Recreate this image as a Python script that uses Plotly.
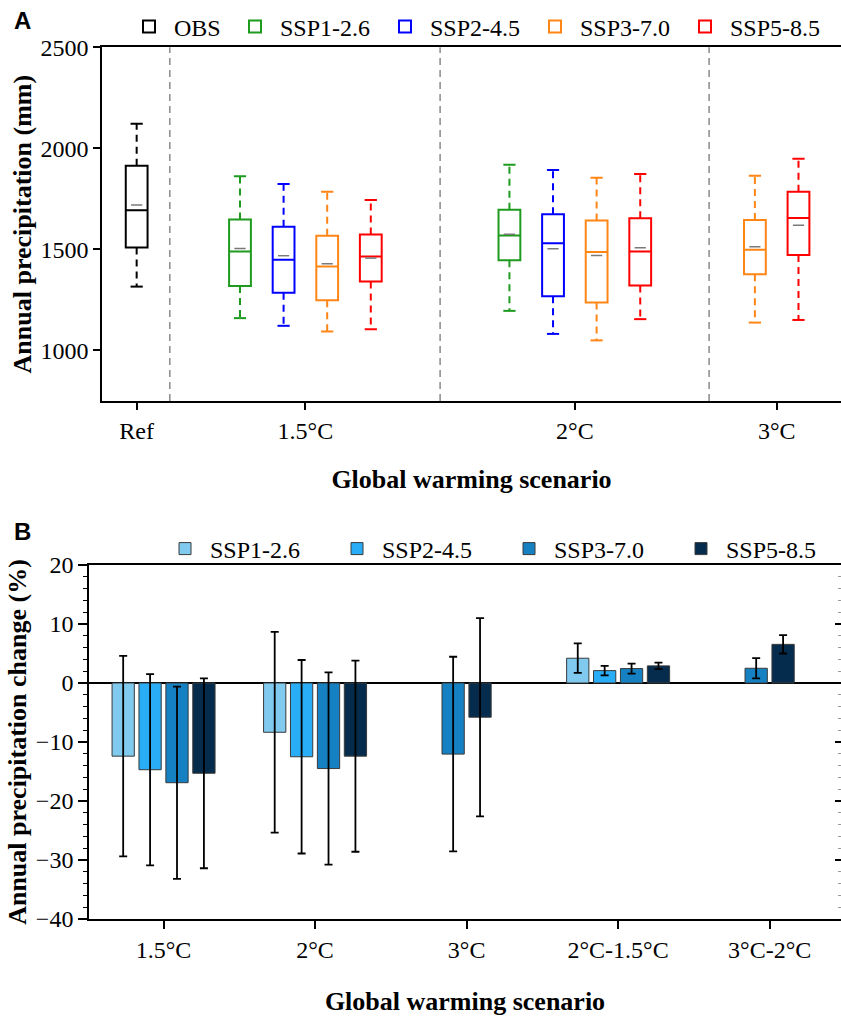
import plotly.graph_objects as go

W, H = 841, 1023
SERIF = "Liberation Serif"

# ---------------- Panel A data ----------------
groups_a = ["Ref", "1.5°C", "2°C", "3°C"]
series_a = ["OBS", "SSP1-2.6", "SSP2-4.5", "SSP3-7.0", "SSP5-8.5"]
colors_a = ["#000000", "#1E9A1E", "#0000FF", "#FF8515", "#FF0000"]

# rows follow series_a, columns follow groups_a (None = no box)
whisker_low = [
    [1316, None, None, None],
    [None, 1160, 1196, None],
    [None, 1122, 1082, None],
    [None, 1094, 1050, 1138],
    [None, 1105, 1155, 1151],
]
q1 = [
    [1510, None, None, None],
    [None, 1319, 1446, None],
    [None, 1286, 1268, None],
    [None, 1248, 1237, 1377],
    [None, 1341, 1321, 1472],
]
median = [
    [1694, None, None, None],
    [None, 1490, 1569, None],
    [None, 1449, 1530, None],
    [None, 1415, 1487, 1498],
    [None, 1465, 1490, 1656],
]
mean = [
    [1720, None, None, None],
    [None, 1505, 1575, None],
    [None, 1469, 1503, None],
    [None, 1429, 1470, 1513],
    [None, 1457, 1508, 1620],
]
q3 = [
    [1914, None, None, None],
    [None, 1648, 1696, None],
    [None, 1612, 1674, None],
    [None, 1568, 1643, 1646],
    [None, 1574, 1654, 1785],
]
whisker_high = [
    [2122, None, None, None],
    [None, 1862, 1919, None],
    [None, 1824, 1893, None],
    [None, 1785, 1854, 1865],
    [None, 1745, 1873, 1949],
]

# ---------------- Panel B data ----------------
cats_b = ["1.5°C", "2°C", "3°C", "2°C-1.5°C", "3°C-2°C"]
series_b = ["SSP1-2.6", "SSP2-4.5", "SSP3-7.0", "SSP5-8.5"]
colors_b = ["#80CAEF", "#29ADF6", "#1681C2", "#052C4D"]
change_b = [
    [-12.4, -8.35, None, 4.2, None],
    [-14.7, -12.5, None, 2.1, None],
    [-16.9, -14.5, -12.05, 2.45, 2.5],
    [-15.3, -12.4, -5.8, 2.9, 6.55],
]
err_b = [
    [17.0, 17.0, None, 2.5, None],
    [16.2, 16.4, None, 0.8, None],
    [16.3, 16.3, 16.5, 0.85, 1.7],
    [16.1, 16.2, 16.8, 0.55, 1.55],
]

# ---------------- layout constants ----------------
centers_a = [0.0, 3.87, 10.05, 14.68]     # category positions on panel A axis
separators_a = [0.76, 6.96, 13.13]
slot_a = 1.0
cap_half = 0.14
slot_b = 0.1776
barw_b = 0.147
legend_x_a = [124, 230, 380, 530, 680]    # px, one legend per series
legend_x_b = [160, 332, 504, 676]

fig = go.Figure()


def legend_name(i):
    return "legend" if i == 0 else f"legend{i + 1}"


# ---- Panel A: boxes ----
for s, name in enumerate(series_a):
    xs, lo, a1, md, mn, a3, hi = [], [], [], [], [], [], []
    for g in range(len(groups_a)):
        if median[s][g] is None:
            continue
        present = [k for k in range(len(series_a)) if median[k][g] is not None]
        n = len(present)
        idx = present.index(s)
        xs.append(centers_a[g] + (idx - (n - 1) / 2) * slot_a)
        lo.append(whisker_low[s][g]); a1.append(q1[s][g]); md.append(median[s][g])
        mn.append(mean[s][g]); a3.append(q3[s][g]); hi.append(whisker_high[s][g])
    col = colors_a[s]
    wx, wy = [], []
    for x, l, b, t, h in zip(xs, lo, a1, a3, hi):
        wx += [x, x, None, x, x, None]
        wy += [t, h, None, b, l, None]
    fig.add_trace(go.Scatter(x=wx, y=wy, mode="lines", showlegend=False, hoverinfo="skip",
                             line=dict(color=col, width=2, dash="7px,5px"), xaxis="x", yaxis="y"))
    cx, cy = [], []
    for x, l, h in zip(xs, lo, hi):
        cx += [x - cap_half, x + cap_half, None, x - cap_half, x + cap_half, None]
        cy += [h, h, None, l, l, None]
    fig.add_trace(go.Scatter(x=cx, y=cy, mode="lines", showlegend=False, hoverinfo="skip",
                             line=dict(color=col, width=2), xaxis="x", yaxis="y"))
    fig.add_trace(go.Box(x=xs, q1=a1, median=md, q3=a3, lowerfence=a1, upperfence=a3,
                         name=name, width=0.5, whiskerwidth=0, boxpoints=False,
                         line=dict(color=col, width=2), fillcolor="white",
                         legend=legend_name(s), xaxis="x", yaxis="y"))
    fig.add_trace(go.Scatter(x=xs, y=mn, mode="markers", showlegend=False, hoverinfo="skip",
                             marker=dict(symbol="line-ew", size=8, color="#7a7a7a",
                                         line=dict(color="#7a7a7a", width=1.5)),
                             xaxis="x", yaxis="y"))

# ---- Panel B: bars ----
nA = len(series_a)
for s, name in enumerate(series_b):
    xs, ys, es = [], [], []
    for c in range(len(cats_b)):
        if change_b[s][c] is None:
            continue
        present = [k for k in range(len(series_b)) if change_b[k][c] is not None]
        n = len(present)
        idx = present.index(s)
        xs.append(c + (idx - (n - 1) / 2) * slot_b)
        ys.append(change_b[s][c]); es.append(err_b[s][c])
    fig.add_trace(go.Bar(x=xs, y=ys, width=barw_b, name=name, legend=legend_name(nA + s),
                         marker=dict(color=colors_b[s], line=dict(color="#3a3a3a", width=1)),
                         error_y=dict(type="data", array=es, visible=True, color="black",
                                      thickness=1.8, width=4),
                         xaxis="x2", yaxis="y2"))

fig.add_trace(go.Scatter(x=[None], y=[None], xaxis="x2", yaxis="y3", showlegend=False, hoverinfo="skip"))

tickfont = dict(family=SERIF, size=24, color="black")
titlefont = dict(family=SERIF, size=26, color="black")

shapes = [dict(type="line", xref="x", yref="y domain", x0=s, x1=s, y0=0, y1=1,
               line=dict(color="#8a8a8a", width=1.5, dash="7px,5px"), layer="below")
          for s in separators_a]

legends = {}
for i, px in enumerate(legend_x_a):
    legends[legend_name(i)] = dict(orientation="h", x=px / W, xanchor="left", y=1 - 27 / H,
                                   yanchor="middle", font=dict(family=SERIF, size=24, color="black"),
                                   bgcolor="rgba(0,0,0,0)", itemwidth=40)
for i, px in enumerate(legend_x_b):
    legends[legend_name(nA + i)] = dict(orientation="h", x=px / W, xanchor="left", y=1 - 549 / H,
                                        yanchor="middle", font=dict(family=SERIF, size=24, color="black"),
                                        bgcolor="rgba(0,0,0,0)", itemwidth=40)

fig.update_layout(
    width=W, height=H, autosize=False,
    margin=dict(l=0, r=0, t=0, b=0),
    paper_bgcolor="white", plot_bgcolor="white",
    barmode="overlay",
    showlegend=True,
    xaxis=dict(domain=[102 / W, 1], range=[-0.795, 16.155], tickvals=centers_a, ticktext=groups_a,
               ticks="outside", ticklen=7, tickwidth=1.6, tickcolor="black",
               showline=True, linewidth=1.6, linecolor="black", mirror=True,
               showgrid=False, zeroline=False, tickfont=tickfont, automargin=False,
               title=dict(text="<b>Global warming scenario</b>", font=titlefont, standoff=27),
               anchor="y"),
    yaxis=dict(domain=[1 - 401 / H, 1 - 47.3 / H], range=[750, 2500], tickvals=[1000, 1500, 2000, 2500],
               ticks="outside", ticklen=7, tickwidth=1.6, tickcolor="black",
               showline=True, linewidth=1.6, linecolor="black", mirror=False,
               showgrid=False, zeroline=False, tickfont=tickfont, automargin=False,
               title=dict(text="<b>Annual precipitation (mm)</b>", font=titlefont, standoff=1),
               anchor="x"),
    xaxis2=dict(domain=[89 / W, 1], range=[-0.492, 4.471], tickvals=list(range(len(cats_b))),
                ticktext=cats_b, ticks="outside", ticklen=8, tickwidth=1.6, tickcolor="black",
                showline=True, linewidth=1.6, linecolor="black", mirror=True,
                showgrid=False, zeroline=False, tickfont=tickfont, automargin=False,
                title=dict(text="<b>Global warming scenario</b>", font=titlefont, standoff=30),
                anchor="y2"),
    yaxis2=dict(domain=[1 - 919 / H, 1 - 565 / H], range=[-40, 20], dtick=10,
                ticks="outside", ticklen=9, tickwidth=1.6, tickcolor="black",
                minor=dict(dtick=2, ticks="outside", ticklen=4, tickwidth=1.2, tickcolor="black"),
                showline=True, linewidth=1.6, linecolor="black", mirror=False,
                showgrid=False, zeroline=True, zerolinecolor="black", zerolinewidth=1.5,
                tickfont=tickfont, automargin=False,
                title=dict(text="<b>Annual precipitation change (%)</b>", font=titlefont, standoff=2),
                anchor="x2"),
    yaxis3=dict(overlaying="y2", side="right", anchor="x2", range=[-40, 20], dtick=10,
                ticks="inside", ticklen=6, tickwidth=1.6, tickcolor="black",
                minor=dict(dtick=2, ticks="inside", ticklen=3, tickwidth=1, tickcolor="#9a9a9a"),
                showticklabels=False, showline=False, showgrid=False, zeroline=False),
    shapes=shapes,
    annotations=[
        dict(text="<b>A</b>", x=12 / W, y=1 - 21 / H, xref="paper", yref="paper", showarrow=False,
             xanchor="left", yanchor="middle", font=dict(family="Liberation Sans", size=24, color="black")),
        dict(text="<b>B</b>", x=12 / W, y=1 - 531 / H, xref="paper", yref="paper", showarrow=False,
             xanchor="left", yanchor="middle", font=dict(family="Liberation Sans", size=24, color="black")),
    ],
    **legends,
)

fig.write_html("out.html", config={"displayModeBar": False},
               post_script="document.body.style.margin='0';document.body.style.padding='0';")
